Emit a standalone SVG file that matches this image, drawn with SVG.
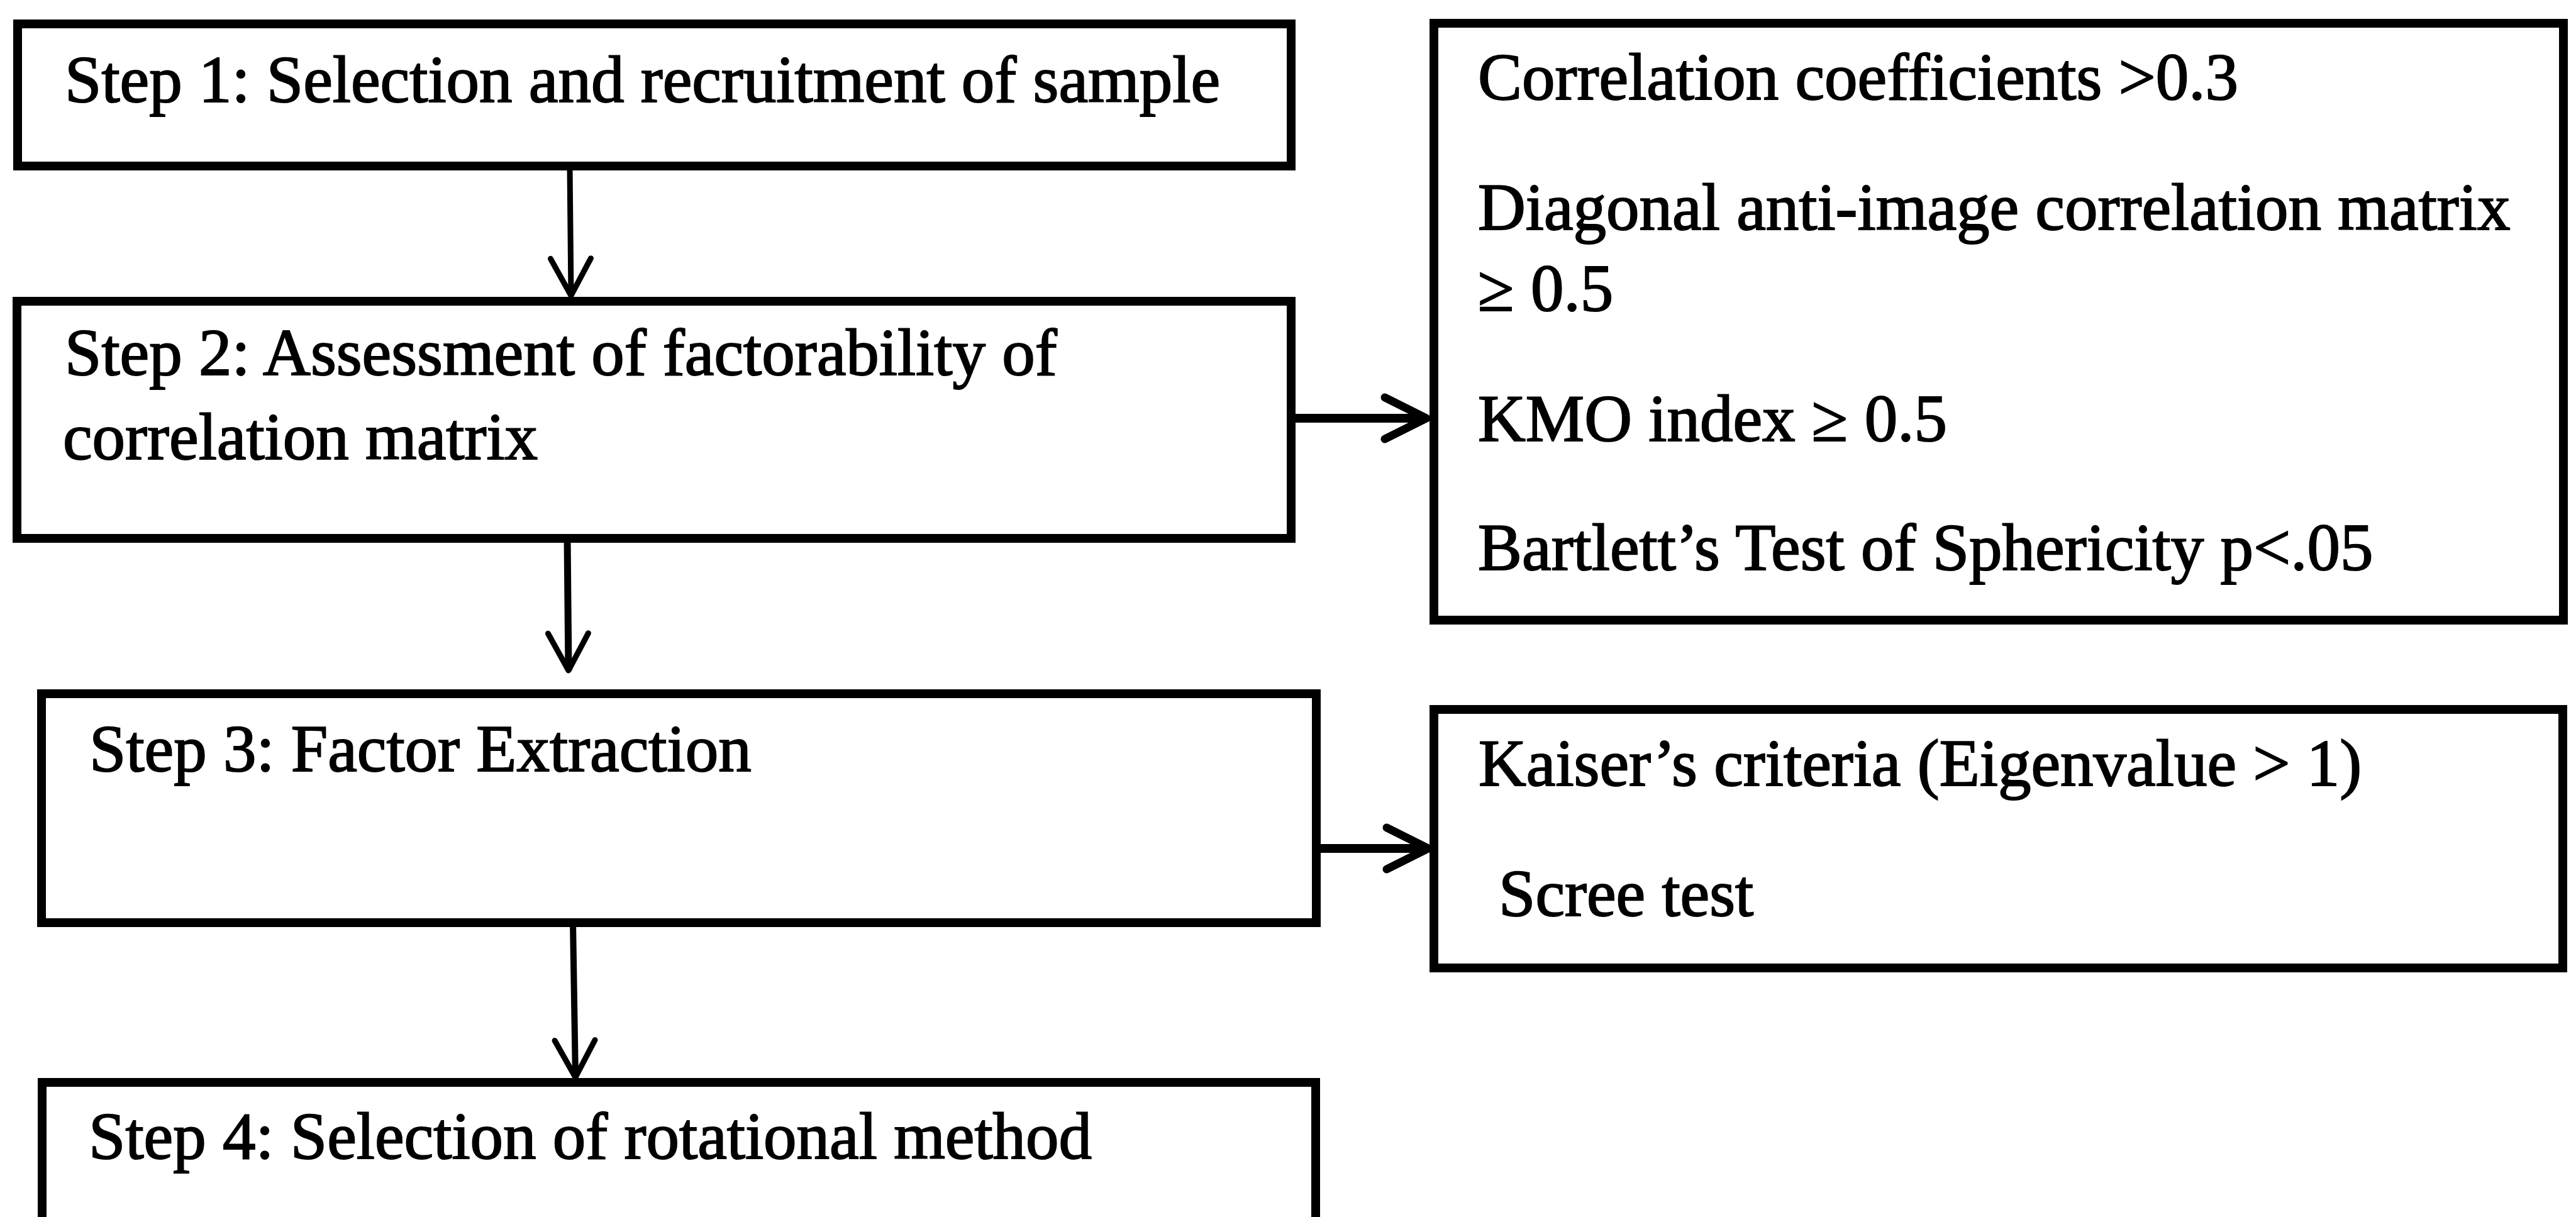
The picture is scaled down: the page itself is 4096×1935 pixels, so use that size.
<svg xmlns="http://www.w3.org/2000/svg" width="4096" height="1935" viewBox="0 0 4096 1935">
  <style>
    .box { fill: #ffffff; stroke: #000000; stroke-width: 14; }
    .lbl { font-family: "Liberation Serif", "Times New Roman", serif; font-size: 105px; fill: #000000; stroke: #000000; stroke-width: 2; }
    .conn { fill: none; stroke: #000000; }
    .h { stroke-width: 14; }
  </style>
  <defs>
    <marker id="arrH" markerUnits="userSpaceOnUse" viewBox="-90 -60 100 120" markerWidth="100" markerHeight="120" refX="0" refY="0" orient="auto" overflow="visible">
      <path d="M-66,-33 L0,0 L-66,33" fill="none" stroke="#000" stroke-width="13" stroke-linecap="round" stroke-linejoin="round"/>
    </marker>
    <marker id="arrV" markerUnits="userSpaceOnUse" viewBox="-90 -60 100 120" markerWidth="100" markerHeight="120" refX="0" refY="0" orient="auto" overflow="visible">
      <path d="M-59,-32 L0,0 L-59,32" fill="none" stroke="#000" stroke-width="9" stroke-linecap="round" stroke-linejoin="round"/>
    </marker>
  </defs>
  <rect x="0" y="0" width="4096" height="1935" fill="#ffffff"/>

  <g id="connectors">
    <line class="conn" x1="906" y1="264" x2="908" y2="470" stroke-width="9" marker-end="url(#arrV)"/>
    <line class="conn" x1="902" y1="856" x2="904" y2="1066" stroke-width="11" marker-end="url(#arrV)"/>
    <line class="conn" x1="911" y1="1467" x2="915" y2="1713" stroke-width="10" marker-end="url(#arrV)"/>
    <line class="conn h" x1="2053" y1="665" x2="2268" y2="665" marker-end="url(#arrH)"/>
    <line class="conn h" x1="2093" y1="1349" x2="2271" y2="1349" marker-end="url(#arrH)"/>
  </g>

  <g id="step1">
    <rect class="box" x="28" y="38" width="2025" height="226"/>
    <text class="lbl" x="103" y="162">Step 1: Selection and recruitment of sample</text>
  </g>

  <g id="step2">
    <rect class="box" x="27" y="479" width="2026" height="377"/>
    <text class="lbl" x="103" y="596">Step 2: Assessment of factorability of</text>
    <text class="lbl" x="100" y="730">correlation matrix</text>
  </g>

  <g id="step3">
    <rect class="box" x="66" y="1103" width="2027" height="364"/>
    <text class="lbl" x="142" y="1226">Step 3: Factor Extraction</text>
  </g>

  <g id="step4">
    <rect class="box" x="67" y="1721" width="2025" height="260"/>
    <text class="lbl" x="141" y="1842">Step 4: Selection of rotational method</text>
  </g>

  <g id="factorability-criteria">
    <rect class="box" x="2280" y="37" width="1796" height="949"/>
    <text class="lbl" x="2350" y="158">Correlation coefficients &gt;0.3</text>
    <text class="lbl" x="2350" y="365">Diagonal anti-image correlation matrix</text>
    <text class="lbl" x="2350" y="494">≥ 0.5</text>
    <text class="lbl" x="2350" y="701">KMO index ≥ 0.5</text>
    <text class="lbl" x="2350" y="906">Bartlett’s Test of Sphericity p&lt;.05</text>
  </g>

  <g id="extraction-criteria">
    <rect class="box" x="2280" y="1128" width="1795" height="411"/>
    <text class="lbl" x="2351" y="1249">Kaiser’s criteria (Eigenvalue &gt; 1)</text>
    <text class="lbl" x="2383" y="1456">Scree test</text>
  </g>
</svg>
